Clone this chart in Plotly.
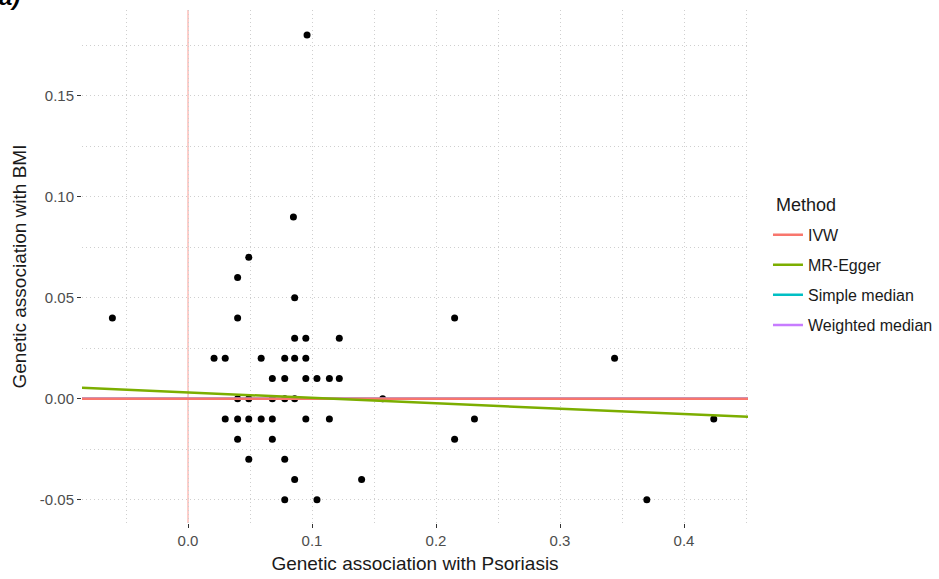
import plotly.graph_objects as go

# ---- data ----
psoriasis = [-0.061, 0.096, 0.085, 0.049, 0.040, 0.086, 0.040, 0.215,
             0.086, 0.095, 0.122,
             0.021, 0.030, 0.059, 0.078, 0.086, 0.095, 0.344,
             0.068, 0.078, 0.095, 0.104, 0.114, 0.122,
             0.040, 0.049, 0.068, 0.078, 0.086, 0.157,
             0.030, 0.040, 0.049, 0.059, 0.068, 0.095, 0.114, 0.231, 0.424,
             0.040, 0.068, 0.215,
             0.049, 0.078,
             0.086, 0.140,
             0.078, 0.104, 0.370]
bmi = [0.040, 0.180, 0.090, 0.070, 0.060, 0.050, 0.040, 0.040,
       0.030, 0.030, 0.030,
       0.020, 0.020, 0.020, 0.020, 0.020, 0.020, 0.020,
       0.010, 0.010, 0.010, 0.010, 0.010, 0.010,
       0.000, 0.000, 0.000, 0.000, 0.000, 0.000,
       -0.010, -0.010, -0.010, -0.010, -0.010, -0.010, -0.010, -0.010, -0.010,
       -0.020, -0.020, -0.020,
       -0.030, -0.030,
       -0.040, -0.040,
       -0.050, -0.050, -0.050]

methods = ["IVW", "MR-Egger", "Simple median", "Weighted median"]
slopes = [0.0, -0.0267, 0.0, 0.0]
intercepts = [0.0, 0.0031, 0.0, 0.0]
colors = ["#F8766D", "#7CAE00", "#00BFC4", "#C77CFF"]

x_ticks = [0.0, 0.1, 0.2, 0.3, 0.4]
x_ticktext = ["0.0", "0.1", "0.2", "0.3", "0.4"]
y_ticks = [-0.05, 0.0, 0.05, 0.10, 0.15]
y_ticktext = ["-0.05", "0.00", "0.05", "0.10", "0.15"]
x_minor = [-0.05, 0.05, 0.15, 0.25, 0.35, 0.45]
y_minor = [-0.025, 0.025, 0.075, 0.125, 0.175]

x_range = [-0.0855, 0.4516]
y_range = [-0.0615, 0.1924]

FONT = "Arial, Liberation Sans, sans-serif"
GRID = "#cfcfcf"
DASH = "1px,3px"

fig = go.Figure()

fig.add_trace(go.Scatter(x=psoriasis, y=bmi, mode="markers",
                         marker=dict(color="black", size=7),
                         showlegend=False))

# draw medians first (hidden under IVW), keep legend order
order = [2, 3, 0, 1]
for i in order:
    xs = x_range
    ys = [intercepts[i] + slopes[i] * v for v in xs]
    fig.add_trace(go.Scatter(x=xs, y=ys, mode="lines", name=methods[i],
                             line=dict(color=colors[i], width=2.5),
                             legendrank=i + 1, legendgroup=methods[i]))

fig.add_shape(type="line", xref="x", yref="paper", x0=0, x1=0, y0=0, y1=1,
              line=dict(color="rgba(248,118,109,0.6)", width=1.2), layer="below")

axis_common = dict(showline=False, zeroline=False, ticks="outside", ticklen=4,
                   tickwidth=1, tickcolor="#333333",
                   tickfont=dict(family=FONT, size=15, color="#4d4d4d"),
                   showgrid=True, gridcolor=GRID, gridwidth=1, griddash=DASH)

fig.update_xaxes(range=x_range, tickvals=x_ticks, ticktext=x_ticktext,
                 minor=dict(tickvals=x_minor, showgrid=True, gridcolor=GRID,
                            griddash=DASH, ticks=""),
                 title=dict(text="Genetic association with Psoriasis",
                            font=dict(family=FONT, size=19, color="#1a1a1a"), standoff=8),
                 **axis_common)
fig.update_yaxes(range=y_range, tickvals=y_ticks, ticktext=y_ticktext,
                 minor=dict(tickvals=y_minor, showgrid=True, gridcolor=GRID,
                            griddash=DASH, ticks=""),
                 title=dict(text="Genetic association with BMI",
                            font=dict(family=FONT, size=19, color="#1a1a1a"), standoff=8),
                 **axis_common)

fig.add_annotation(text="<b><i>a)</i></b>", xref="paper", yref="paper",
                   x=-0.128, y=1.0, xanchor="left", yanchor="bottom", yshift=-2,
                   showarrow=False, font=dict(family=FONT, size=24, color="black"))

# legend title
fig.add_annotation(text="Method", xref="paper", yref="paper",
                   x=1.039, y=0.62, xanchor="left", yanchor="middle",
                   showarrow=False, font=dict(family=FONT, size=18, color="#1a1a1a"))

fig.update_layout(
    width=939, height=579,
    margin=dict(l=82, r=191, t=10, b=56, autoexpand=False),
    plot_bgcolor="white", paper_bgcolor="white",
    font=dict(family=FONT),
    legend=dict(x=1.03, xanchor="left", y=0.595, yanchor="top",
                font=dict(family=FONT, size=16, color="#1a1a1a"),
                tracegroupgap=6.3, itemwidth=30, bgcolor="rgba(0,0,0,0)"),
)

fig.write_html("out.html", config={"displayModeBar": False},
               post_script="document.body.style.margin='0';")
